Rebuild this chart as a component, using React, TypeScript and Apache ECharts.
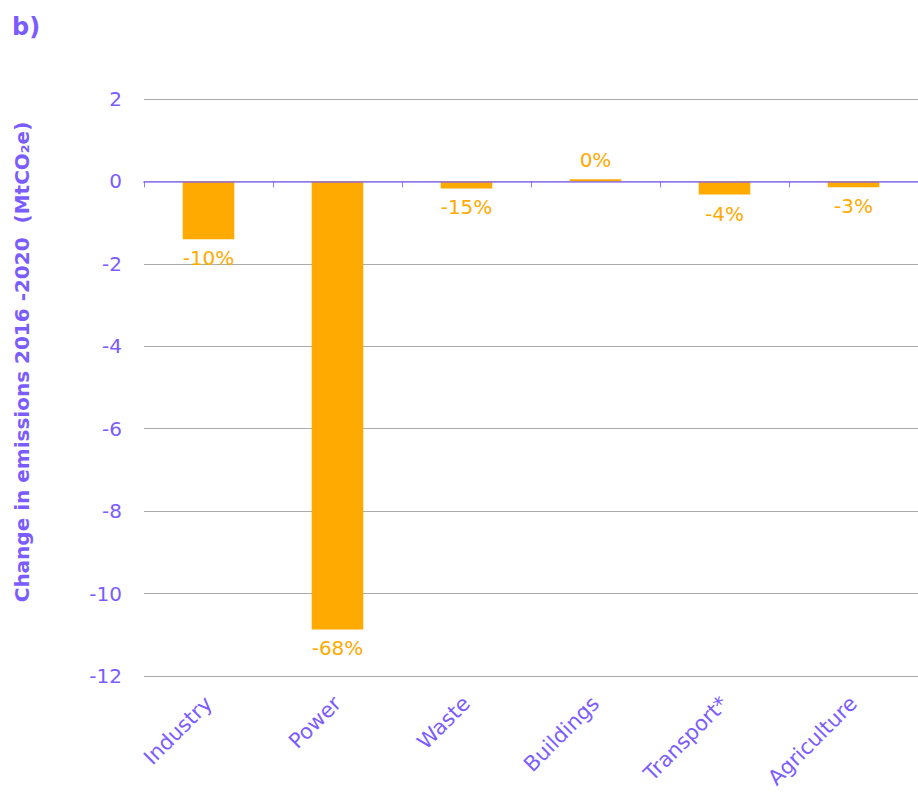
import React, { useEffect, useRef } from "react";
import * as echarts from "echarts";

const categories = ["Industry", "Power", "Waste", "Buildings", "Transport*", "Agriculture"];
const changeValues = [-1.4, -10.87, -0.17, 0.05, -0.32, -0.14];
const percentLabels = ["-10%", "-68%", "-15%", "0%", "-4%", "-3%"];
const yTicks = { min: -12, max: 2, interval: 2 };

const PURPLE = "#7B5CFF";
const ORANGE = "#FFAA00";
const FONT = "DejaVu Sans";

export default function App() {
  const ref = useRef<HTMLDivElement>(null);
  useEffect(() => {
    if (!ref.current) return;
    const chart = echarts.init(ref.current, null, { renderer: "svg" });
    chart.setOption({
      animation: false,
      backgroundColor: "#fff",
      textStyle: { fontFamily: FONT },
      grid: { left: 144, right: -8, top: 99, bottom: 120, containLabel: false },
      graphic: [
        {
          type: "text",
          left: 12,
          top: 15,
          style: { text: "b)", fill: PURPLE, font: `bold 24px "${FONT}"` },
        },
        {
          type: "text",
          x: 22,
          y: 362,
          rotation: Math.PI / 2,
          style: {
            text: "Change in emissions 2016 -2020  (MtCO₂e)",
            fill: PURPLE,
            font: `bold 20px "${FONT}"`,
            align: "center",
            verticalAlign: "middle",
          },
        },
      ],
      xAxis: [
        {
          type: "category",
          data: categories,
          axisLine: { onZero: true, lineStyle: { color: PURPLE, opacity: 0.6, width: 2 } },
          axisTick: { show: true, inside: false, length: 6, lineStyle: { color: PURPLE, opacity: 0.8 } },
          axisLabel: { show: false },
          z: 10,
        },
        {
          type: "category",
          data: categories,
          position: "bottom",
          axisLine: { show: false, onZero: false },
          axisTick: { show: false },
          axisLabel: {
            rotate: 45,
            color: PURPLE,
            fontSize: 21,
            fontFamily: FONT,
            margin: 24,
          },
        },
      ],
      yAxis: {
        type: "value",
        min: yTicks.min,
        max: yTicks.max,
        interval: yTicks.interval,
        axisLine: { show: false },
        axisTick: { show: false },
        axisLabel: { color: PURPLE, fontSize: 20, fontFamily: FONT, margin: 22 },
        splitLine: { lineStyle: { color: "#aaaaaa", width: 1 } },
      },
      series: [
        {
          type: "bar",
          xAxisIndex: 0,
          data: changeValues.map((v, i) => ({
            value: v,
            label: {
              show: true,
              position: v >= 0 ? "top" : "bottom",
              formatter: percentLabels[i],
            },
          })),
          barWidth: "40%",
          itemStyle: { color: ORANGE },
          label: {
            color: ORANGE,
            fontSize: 20,
            fontFamily: FONT,
            distance: 9,
          },
        },
      ],
    });
    return () => chart.dispose();
  }, []);
  return (
    <div
      ref={ref}
      style={{ position: "absolute", left: 0, top: 0, width: 918, height: 796 }}
    />
  );
}
